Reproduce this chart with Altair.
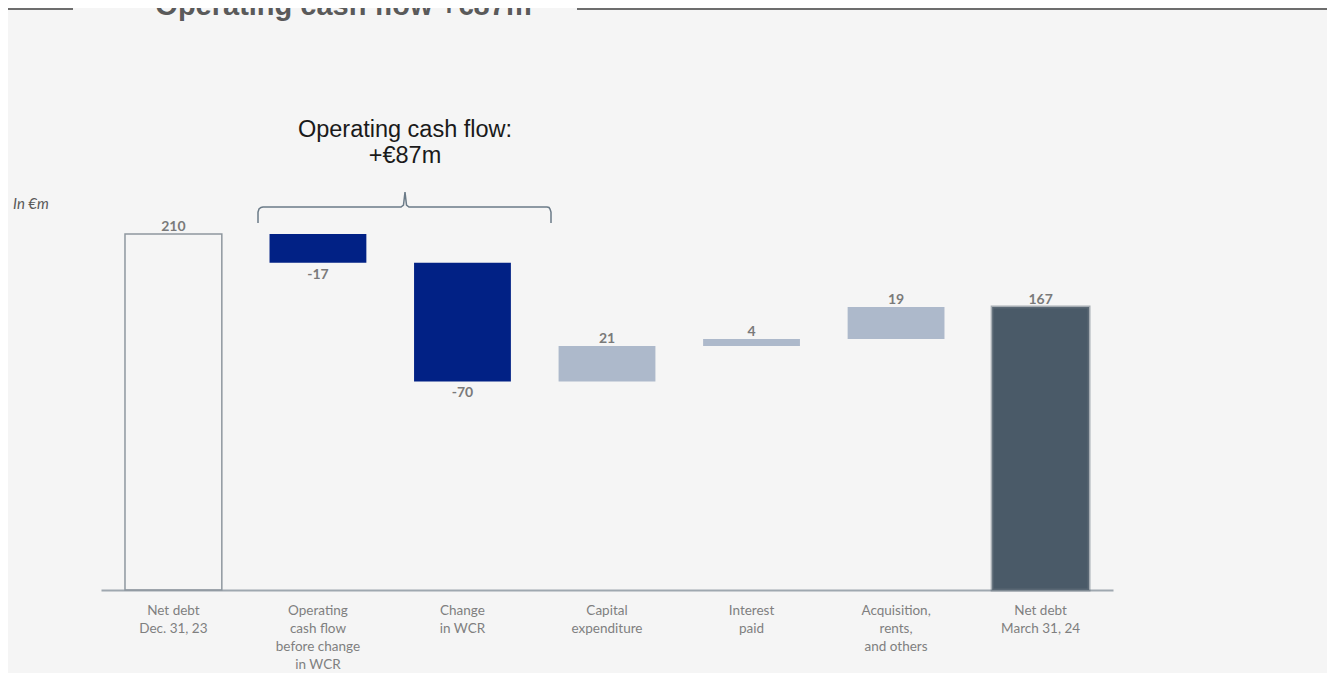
import altair as alt
import pandas as pd

# ---- data ----
categories = [
    "Net debt|Dec. 31, 23",
    "Operating|cash flow|before change|in WCR",
    "Change|in WCR",
    "Capital|expenditure",
    "Interest|paid",
    "Acquisition,|rents,|and others",
    "Net debt|March 31, 24",
]
amounts = [210, -17, -70, 21, 4, 19, 167]
kinds = ["start", "neg", "neg", "pos", "pos", "pos", "end"]
value_labels = ["210", "-17", "-70", "21", "4", "19", "167"]

title_text = "Operating cash flow +€87m"
bracket_text = "Operating cash flow:\n+€87m"
unit_text = "In €m"

# ---- waterfall table ----
rows = []
level = 0
for i, (c, a, k, l) in enumerate(zip(categories, amounts, kinds, value_labels)):
    if k in ("start", "end"):
        lo, hi = 0, a
        level = a
    else:
        lo, hi = sorted([level, level + a])
        level += a
    rows.append(dict(cat=c, lo=lo, hi=hi, kind=k, label=l, order=i))
df = pd.DataFrame(rows)

# brace decoration (pixel path relative to plot origin)
brace = pd.DataFrame({
    "bx": [157, 157, 158, 160, 162, 300, 302.5, 304, 305.5, 308, 446, 448, 449, 450, 450],
    "by": [215, 204, 201, 199.5, 199, 199, 197, 184, 197, 199, 199, 199.5, 201, 204, 215],
})
brace["o"] = range(len(brace))

x_enc = alt.X(
    "cat:N",
    sort=categories,
    scale=alt.Scale(paddingInner=0.33, paddingOuter=0.166),
    axis=alt.Axis(
        title=None,
        labelExpr="split(datum.label, '|')",
        labelAngle=0,
        labelFont="Lato",
        labelFontSize=13.5,
        labelColor="#7f7f7f",
        labelLineHeight=18,
        labelBaseline="alphabetic",
        labelPadding=24,
        labelLimit=300,
        ticks=False,
        tickSize=0,
        grid=False,
        domainColor="#9fa8b0",
        domainWidth=2,
    ),
)
y_scale = alt.Scale(domain=[0, 343.3], nice=False, zero=False)
y_enc = alt.Y("lo:Q", scale=y_scale, axis=None)

base = alt.Chart(df)

start_bar = base.transform_filter("datum.kind == 'start'").mark_bar(
    fillOpacity=0, stroke="#8e979f", strokeWidth=1.5
).encode(x=x_enc, y=y_enc, y2="hi:Q")

neg_bar = base.transform_filter("datum.kind == 'neg'").mark_bar(
    color="#012185"
).encode(x=x_enc, y=y_enc, y2="hi:Q")

pos_bar = base.transform_filter("datum.kind == 'pos'").mark_bar(
    color="#adb9cb"
).encode(x=x_enc, y=y_enc, y2="hi:Q")

end_bar = base.transform_filter("datum.kind == 'end'").mark_bar(
    color="#4a5a68", stroke="#66737e", strokeWidth=3, strokeOpacity=0.55
).encode(x=x_enc, y=y_enc, y2="hi:Q")

label_above = base.transform_filter("datum.kind != 'neg'").mark_text(
    font="Lato", fontSize=14, fontWeight="bold", color="#7a7a7a",
    baseline="alphabetic", dy=-3
).encode(x=x_enc, y=alt.Y("hi:Q", scale=y_scale, axis=None), text="label:N")

label_below = base.transform_filter("datum.kind == 'neg'").mark_text(
    font="Lato", fontSize=14, fontWeight="bold", color="#7a7a7a",
    baseline="alphabetic", dy=16
).encode(x=x_enc, y=alt.Y("lo:Q", scale=y_scale, axis=None), text="label:N")

brace_line = alt.Chart(brace).mark_line(
    color="#6b7b88", strokeWidth=1.5
).encode(
    x=alt.X("bx:Q", scale=None, axis=None),
    y=alt.Y("by:Q", scale=None, axis=None),
    order="o:Q",
)

one = pd.DataFrame({"t": [title_text]})
title_mark = alt.Chart(one).mark_text(
    font="Liberation Sans", fontSize=29, fontWeight="bold", color="#5a5a5a",
    align="center", baseline="alphabetic"
).encode(text="t:N", x=alt.value(242.5), y=alt.value(7))

line_left = alt.Chart(one).mark_rule(color="#6d6d6d", strokeWidth=2).encode(
    x=alt.value(-93), x2=alt.value(-28), y=alt.value(1)
)
line_right = alt.Chart(one).mark_rule(color="#6d6d6d", strokeWidth=2).encode(
    x=alt.value(476), x2=alt.value(1226), y=alt.value(1)
)

bracket_label = alt.Chart(pd.DataFrame({"t": [bracket_text]})).mark_text(
    font="Liberation Sans", fontSize=23.5, color="#1a1a1a",
    align="center", baseline="alphabetic", lineBreak="\n", lineHeight=26
).encode(text="t:N", x=alt.value(304), y=alt.value(129))

unit_label = alt.Chart(pd.DataFrame({"t": [unit_text]})).mark_text(
    font="Lato", fontSize=15, fontStyle="italic", color="#595959",
    align="left", baseline="alphabetic"
).encode(text="t:N", x=alt.value(-88), y=alt.value(201))

chart = alt.layer(
    start_bar, neg_bar, pos_bar, end_bar, label_above, label_below,
    brace_line, title_mark, line_left, line_right, bracket_label, unit_label
).properties(
    width=1012,
    height=582,
    padding={"left": 93, "top": 0, "right": 214, "bottom": 83},
    autosize=alt.AutoSizeParams(type="none"),
    background="#f5f5f5",
).configure_view(stroke=None)

chart.save("out.html", embed_options={"renderer": "svg", "actions": False})
